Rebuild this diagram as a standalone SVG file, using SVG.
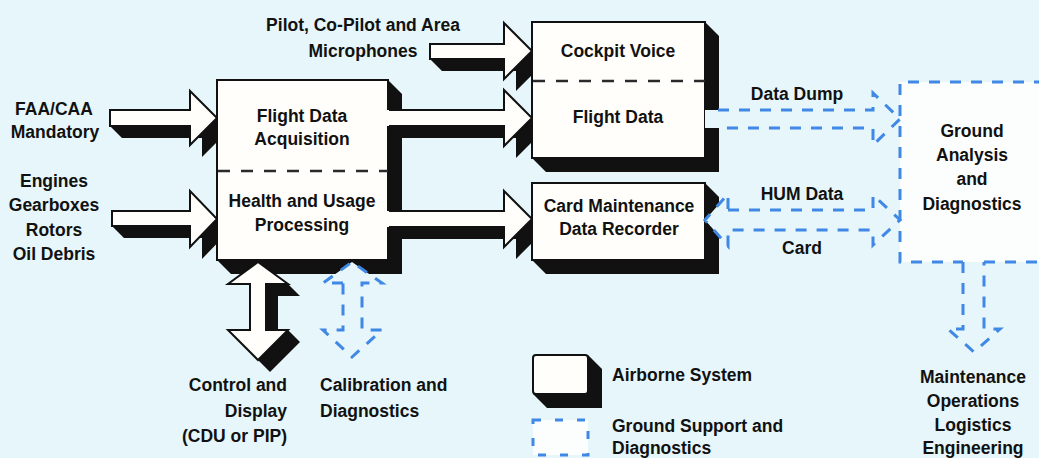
<svg xmlns="http://www.w3.org/2000/svg" width="1039" height="458" viewBox="0 0 1039 458">
<style>
text{font-family:"Liberation Sans",Arial,sans-serif;font-weight:bold;font-size:17.5px;fill:#111}
.mid{text-anchor:middle}
.end{text-anchor:end}
.face{fill:#fffefb;stroke:#111;stroke-width:2}
.sh{fill:#111}
.wa{fill:#fffefb}
.ws{fill:none;stroke:#111;stroke-width:2;stroke-linejoin:miter}
.div{stroke:#2a2a2a;stroke-width:2.5;stroke-dasharray:12 11}
.gb{fill:none;stroke:#3f88e6;stroke-width:3;stroke-dasharray:11 10}
.gf{fill:#e6f6fa}
</style>
<rect width="1039" height="458" fill="#e6f6fa"/>

<g id="connectors">
  <g id="arrow-faa">
    <polygon class="sh" points="110,110 190,110 190,91 217,118 229,130 202,157 202,138 122,138 110,126"/>
    <polygon class="wa" points="110,110 190,110 190,91 217,118 190,145 190,126 110,126"/>
    <polygon class="ws" points="110,110 190,110 190,91 217,118 190,145 190,126 110,126"/>
  </g>
  <g id="arrow-engines">
    <polygon class="sh" points="112,211 190,211 190,191 217,219 229,231 202,259 202,238 124,238 112,226"/>
    <polygon class="wa" points="112,211 190,211 190,191 217,219 190,247 190,226 112,226"/>
    <polygon class="ws" points="112,211 190,211 190,191 217,219 190,247 190,226 112,226"/>
  </g>
  <g id="arrow-mic">
    <polygon class="sh" points="430,44 504,44 504,23 532,51 544,63 516,91 516,71 442,71 430,59"/>
    <polygon class="wa" points="430,44 504,44 504,23 532,51 504,79 504,59 430,59"/>
    <polygon class="ws" points="430,44 504,44 504,23 532,51 504,79 504,59 430,59"/>
  </g>
</g>

<g id="box-fda-hup">
  <polygon class="sh" points="217,80 388,80 402,94 402,274 231,274 217,260"/>
  <rect class="face" x="217" y="80" width="171" height="180"/>
  <line class="div" x1="218" y1="171" x2="388" y2="171"/>
  <text class="mid" x="302" y="122">Flight Data</text>
  <text class="mid" x="302" y="145">Acquisition</text>
  <text class="mid" x="302" y="207">Health and Usage</text>
  <text class="mid" x="302" y="231">Processing</text>
</g>

<g id="connectors-out">
  <g id="arrow-fda-fd">
    <polygon class="sh" points="387,110 504,110 504,90 532,118 544,130 516,158 516,138 399,138 387,126"/>
    <polygon class="wa" points="386,110 504,110 504,90 532,118 504,146 504,126 386,126"/>
    <polyline class="ws" points="389,110 504,110 504,90 532,118 504,146 504,126 389,126"/>
  </g>
  <g id="arrow-hup-card">
    <polygon class="sh" points="387,211 504,211 504,191 532,219 544,231 516,259 516,239 399,239 387,227"/>
    <polygon class="wa" points="386,211 504,211 504,191 532,219 504,247 504,227 386,227"/>
    <polyline class="ws" points="389,211 504,211 504,191 532,219 504,247 504,227 389,227"/>
  </g>
  <g id="arrow-control">
    <polygon class="sh" points="258,262 288,284 300,296 278,296 278,330 288,330 300,342 270,372 228,330 250,330 250,284 228,284"/>
    <polygon class="wa" points="258,262 288,284 266,284 266,330 288,330 258,360 228,330 250,330 250,284 228,284"/>
    <polygon class="ws" points="258,262 288,284 266,284 266,330 288,330 258,360 228,330 250,330 250,284 228,284"/>
  </g>
  <g id="arrow-calibration">
    <polygon class="gf" points="343,283 323,283 352,262 382,283 362,283 362,330 382,330 352,357 323,330 343,330"/>
    <path class="gb" d="M343,283 H323 L352,262 L382,283 H362 V330 H382 L352,357 L323,330 H343 Z"/>
  </g>
</g>

<g id="box-cvr-fdr">
  <polygon class="sh" points="532,22 705,22 719,36 719,172 546,172 532,158"/>
  <rect class="face" x="532" y="22" width="173" height="136"/>
  <line class="div" x1="533" y1="81" x2="705" y2="81"/>
  <text class="mid" x="618" y="57">Cockpit Voice</text>
  <text class="mid" x="618" y="123">Flight Data</text>
</g>

<g id="box-card">
  <polygon class="sh" points="532,183 705,183 719,197 719,274 546,274 532,260"/>
  <rect class="face" x="532" y="183" width="173" height="77"/>
  <text class="mid" x="619" y="212">Card Maintenance</text>
  <text class="mid" x="619" y="235">Data Recorder</text>
</g>

<g id="box-ground">
  <rect x="900" y="82" width="145" height="180" fill="#fcfefe"/>
  <path class="gb" d="M1045,82 H900 V262 H963 M984,262 H1045"/>
  <text class="mid" x="972" y="137">Ground</text>
  <text class="mid" x="972" y="161">Analysis</text>
  <text class="mid" x="972" y="185">and</text>
  <text class="mid" x="972" y="210">Diagnostics</text>
</g>

<g id="connectors-ground">
  <g id="arrow-datadump">
    <polygon class="gf" points="705,110 873,110 873,93 900,119 873,145 873,128 705,128"/>
    <path class="gb" d="M718,110 H873 V93 L900,119 L873,145 V128 H718"/>
  </g>
  <g id="arrow-hum-card">
    <polygon class="gf" points="728,210 873,210 873,195 900,220 873,245 873,230 728,230 728,246 705,220 728,194"/>
    <path class="gb" d="M728,210 H873 V195 L900,220 L873,245 V230 H728 V246 L705,220 L728,194 Z"/>
  </g>
  <g id="arrow-maint">
    <polygon class="gf" points="963,263 963,329 948,329 974,352 1000,329 984,329 984,263"/>
    <path class="gb" d="M963,262 V329 H948 L974,352 L1000,329 H984 V262"/>
  </g>
</g>

<g id="labels">
  <text class="mid" x="363" y="31">Pilot, Co-Pilot and Area</text>
  <text class="mid" x="363" y="57">Microphones</text>
  <text class="mid" x="54" y="115">FAA/CAA</text>
  <text class="mid" x="55" y="138">Mandatory</text>
  <text class="mid" x="54" y="187">Engines</text>
  <text class="mid" x="54" y="211">Gearboxes</text>
  <text class="mid" x="54" y="236">Rotors</text>
  <text class="mid" x="54" y="260">Oil Debris</text>
  <text class="end" x="287" y="391">Control and</text>
  <text class="end" x="287" y="417">Display</text>
  <text class="end" x="287" y="442">(CDU or PIP)</text>
  <text x="320" y="391">Calibration and</text>
  <text x="320" y="417">Diagnostics</text>
  <text class="mid" x="797" y="100">Data Dump</text>
  <text class="mid" x="802" y="200">HUM Data</text>
  <text class="mid" x="802" y="254">Card</text>
  <text class="mid" x="973" y="383">Maintenance</text>
  <text class="mid" x="973" y="407">Operations</text>
  <text class="mid" x="973" y="431">Logistics</text>
  <text class="mid" x="973" y="454">Engineering</text>
</g>

<g id="legend">
  <g id="legend-airborne">
    <polygon class="sh" points="533,355 588,355 602,369 602,408 547,408 533,394"/>
    <rect class="face" x="533" y="355" width="55" height="39" rx="3"/>
    <text x="612" y="381">Airborne System</text>
  </g>
  <g id="legend-ground">
    <rect x="533" y="420" width="55" height="35" fill="#fcfefe"/>
    <rect class="gb" x="533" y="420" width="55" height="35" style="stroke-dasharray:8 14"/>
    <text x="612" y="432">Ground Support and</text>
    <text x="612" y="454">Diagnostics</text>
  </g>
</g>
</svg>
